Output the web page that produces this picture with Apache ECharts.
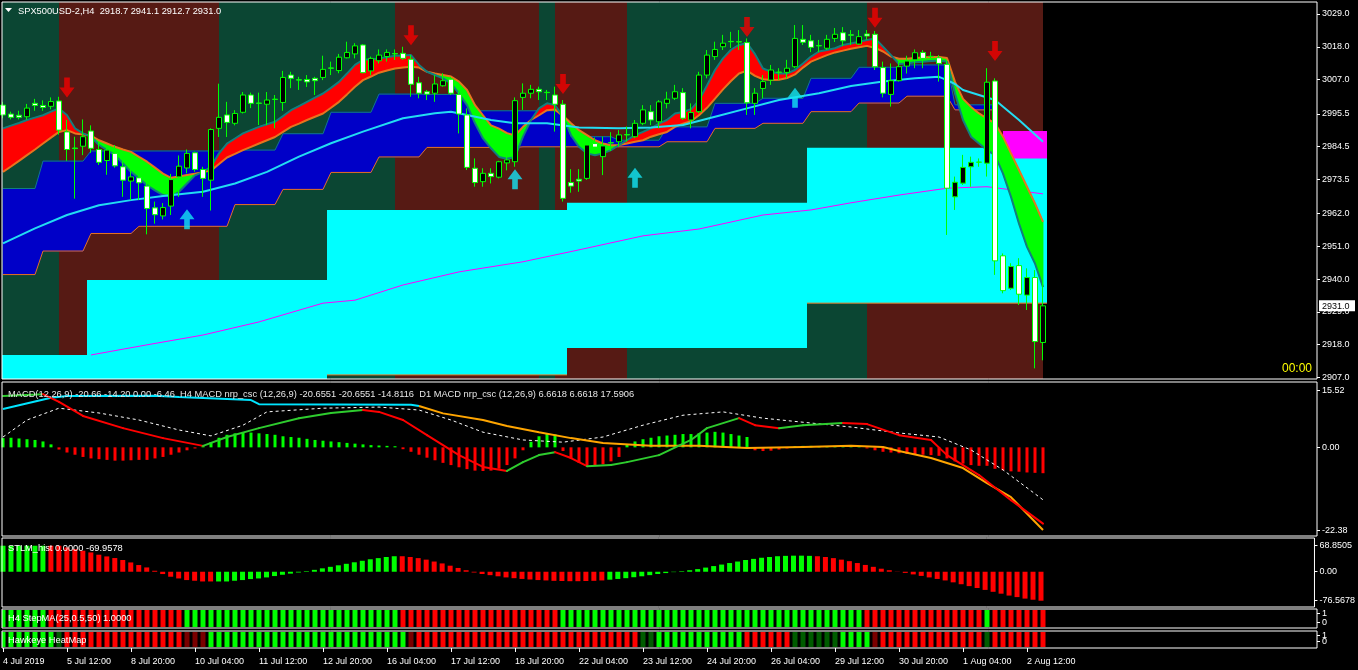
<!DOCTYPE html>
<html>
<head>
<meta charset="utf-8">
<title>SPX500USD-2,H4</title>
<script src="https://cdn.jsdelivr.net/npm/echarts@6/dist/echarts.min.js"></script>
<style>
html,body{margin:0;padding:0;background:#000;overflow:hidden;}
#chart{width:1358px;height:670px;}
</style>
</head>
<body>
<div id="chart"></div>
<script>
// ================= DATA =================
const symbolTitle = 'SPX500USD-2,H4  2918.7 2941.1 2912.7 2931.0';
const macdTitle = 'MACD(12,26,9) -20.66 -14.20 0.00 -6.46  H4 MACD nrp_csc (12,26,9) -20.6551 -20.6551 -14.8116  D1 MACD nrp_csc (12,26,9) 6.6618 6.6618 17.5906';
const stlmTitle = 'STLM_hist 0.0000 -69.9578';
const stepTitle = 'H4 StepMA(25,0.5,50) 1.0000';
const heatTitle = 'Hawkeye HeatMap';
const timerText = '00:00';
const lastPrice = 2931.0;

const timeTickBars = [0,8,16,24,32,40,48,56,64,72,80,88,96,104,112,120,128];
const timeTickLabels = ['4 Jul 2019','5 Jul 12:00','8 Jul 20:00','10 Jul 04:00','11 Jul 12:00','12 Jul 20:00','16 Jul 04:00','17 Jul 12:00','18 Jul 20:00','22 Jul 04:00','23 Jul 12:00','24 Jul 20:00','26 Jul 04:00','29 Jul 12:00','30 Jul 20:00','1 Aug 04:00','2 Aug 12:00'];
const priceTicks = [3029.0,3018.0,3007.0,2995.5,2984.5,2973.5,2962.0,2951.0,2940.0,2929.0,2918.0,2907.0];
const macdTicks = [15.52, 0, -22.38];
const macdTickLabels = ['15.52','0.00','-22.38'];
const stlmTicks = [68.8505, 0, -76.5678];
const stlmTickLabels = ['68.8505','0.00','-76.5678'];
const flagTicks = [1, 0];
const flagTickLabels = ['1', '0'];

// candles: [open, close, low, high], one per H4 bar
const candles = [
[2998.4,2995.1,2994.0,2999.5],[2995.4,2994.3,2993.6,2996.2],[2995.0,2994.3,2993.6,2996.5],[2994.5,2997.4,2993.5,2998.8],[2999.0,2998.3,2996.5,3000.5],
[2998.3,2997.6,2996.5,3000.0],[2998.0,2999.6,2997.0,3001.0],[2999.8,2990.0,2988.5,3001.2],[2989.4,2983.5,2979.7,2993.4],[2984.0,2983.8,2967.0,2987.8],
[2984.6,2987.8,2981.6,2993.6],[2989.7,2983.9,2982.3,2991.6],[2983.5,2979.2,2978.3,2985.8],[2979.8,2983.3,2975.0,2985.0],[2982.2,2978.0,2977.4,2985.0],
[2977.7,2973.2,2967.6,2980.5],[2972.9,2974.3,2966.5,2977.4],[2974.0,2972.3,2966.5,2975.3],[2971.2,2963.7,2955.0,2973.0],[2963.9,2961.6,2958.6,2966.0],
[2961.2,2964.0,2960.0,2965.5],[2964.5,2973.4,2961.5,2975.3],[2974.3,2977.9,2967.6,2981.5],[2977.3,2982.2,2975.5,2983.5],[2982.4,2976.8,2976.0,2982.8],
[2976.8,2973.8,2967.6,2977.7],[2973.2,2990.2,2963.0,2990.6],[2990.6,2994.3,2987.7,3005.6],[2995.1,2992.6,2987.7,2999.5],[2992.3,2995.6,2991.6,2996.7],
[2996.0,3001.8,2995.6,3002.8],[3001.8,2999.0,2997.4,3002.6],[2999.1,2999.0,2991.7,3002.6],[2998.7,3000.1,2991.7,3002.8],[3000.4,3000.3,2990.6,3001.8],
[2999.3,3007.7,2996.5,3009.9],[3008.5,3007.4,3004.1,3009.6],[3006.9,3006.8,3003.5,3007.9],[3007.0,3006.2,3004.5,3008.5],[3007.4,3006.6,3001.8,3007.9],
[3007.7,3010.4,3006.8,3015.0],[3010.9,3010.8,3008.5,3013.0],[3010.0,3014.5,3009.1,3015.6],[3014.3,3016.1,3014.1,3019.7],[3015.6,3018.3,3014.1,3019.2],
[3018.6,3009.3,3009.1,3018.9],[3009.9,3014.1,3008.5,3014.7],[3013.3,3015.2,3012.4,3017.1],[3014.7,3016.1,3013.0,3017.1],[3015.7,3015.6,3013.6,3017.1],
[3015.8,3014.1,3013.6,3018.0],[3013.8,3005.4,3001.2,3015.2],[3005.9,3002.4,3000.7,3007.9],[3002.9,3002.1,3000.1,3003.5],[3002.4,3005.5,2999.5,3008.5],
[3004.9,3006.6,3004.6,3009.1],[3007.1,3002.4,3001.8,3007.9],[3002.0,2995.4,2988.9,3002.9],[2995.1,2977.5,2976.6,2997.3],[2977.2,2972.4,2971.0,2980.5],
[2972.7,2975.5,2971.0,2977.2],[2975.5,2974.4,2972.1,2977.2],[2974.2,2979.4,2973.8,2979.7],[2979.0,2980.0,2976.5,2982.0],[2979.4,2999.9,2977.7,3001.0],
[3001.0,3002.4,2996.8,3005.7],[3002.4,3003.7,3000.7,3005.2],[3003.7,3002.9,3000.1,3004.6],[3002.7,3002.6,3000.1,3003.5],[3001.8,2998.7,2989.5,3004.6],
[2998.7,2967.1,2966.0,3000.1],[2972.4,2971.2,2969.0,2976.9],[2973.5,2972.9,2969.3,2976.9],[2973.8,2985.0,2973.3,2986.1],[2985.5,2984.3,2982.0,2987.5],
[2981.1,2984.7,2974.9,2987.8],[2985.8,2985.7,2983.0,2989.3],[2986.1,2988.4,2984.4,2990.0],[2988.5,2988.4,2986.1,2991.2],[2987.8,2992.3,2987.3,2993.4],
[2992.3,2996.8,2991.7,2998.4],[2996.2,2993.4,2991.7,2998.4],[2992.8,2999.5,2990.6,3000.1],[2999.0,3000.4,2997.3,3002.9],[3000.7,3002.9,3000.1,3005.2],
[3002.6,2994.0,2993.4,3004.1],[2993.4,2995.9,2990.6,2999.0],[2996.2,3008.5,2995.7,3009.6],[3008.5,3015.2,3007.4,3016.9],[3014.7,3017.1,3013.6,3019.7],
[3018.0,3019.2,3016.9,3022.0],[3019.8,3019.7,3017.6,3023.0],[3019.7,3019.6,3016.9,3023.6],[3019.4,2999.2,2995.1,3020.8],[2999.0,3002.4,2995.1,3004.1],
[3004.0,3006.3,3000.7,3008.5],[3006.8,3010.2,3005.2,3011.9],[3009.5,3009.4,3006.8,3010.8],[3009.4,3010.8,3007.4,3013.6],[3011.3,3020.8,3010.8,3025.3],
[3020.5,3019.5,3018.6,3025.3],[3020.0,3017.8,3016.2,3022.0],[3018.4,3018.3,3016.2,3020.3],[3017.5,3020.5,3016.9,3022.0],[3020.8,3022.2,3019.6,3024.3],
[3022.7,3020.0,3018.3,3024.6],[3022.0,3021.9,3018.6,3023.6],[3018.9,3021.4,3018.6,3023.6],[3022.3,3021.6,3020.3,3023.6],[3022.2,3011.3,3010.2,3023.3],
[3011.0,3002.4,3001.0,3013.0],[3002.0,3006.6,2997.9,3012.4],[3006.6,3011.3,3006.3,3013.0],[3011.5,3013.2,3009.0,3015.0],[3013.6,3016.0,3010.8,3017.1],
[3016.1,3014.1,3010.8,3016.9],[3014.8,3014.7,3013.6,3016.3],[3014.3,3012.4,3006.3,3015.2],[3012.1,2970.5,2954.8,3013.6],[2967.6,2972.5,2963.2,2974.4],
[2972.2,2977.5,2971.6,2981.7],[2977.7,2979.2,2971.0,2981.1],[2979.3,2979.2,2977.7,2980.5],[2978.9,3006.1,2974.4,3010.8],[3006.5,2946.1,2941.4,3007.4],
[2947.8,2936.1,2935.2,2948.6],[2936.9,2944.2,2936.3,2945.3],[2944.5,2934.9,2931.3,2947.0],[2934.6,2940.5,2929.6,2943.6],[2940.5,2919.0,2910.0,2943.0],
[2918.7,2931.0,2912.7,2941.1]
];

// ribbon: fast (teal) and slow (orange) moving averages
const ribbonFast = [
2990.6,2991.5,2992.4,2993.4,2994.2,2995.0,2996.2,2997.3,2995.0,2990.6,
2988.9,2987.8,2985.0,2983.3,2981.6,2978.8,2976.0,2973.8,2971.5,2969.8,
2968.2,2967.6,2969.3,2972.1,2974.8,2976.0,2977.7,2982.2,2985.5,2987.2,
2988.9,2990.0,2991.1,2992.0,2992.8,2994.7,2996.7,2998.1,2999.5,3000.9,
3002.3,3004.2,3006.2,3009.0,3011.9,3013.6,3013.8,3014.1,3014.5,3015.0,
3015.1,3015.2,3011.9,3009.6,3008.5,3007.4,3005.7,3002.3,2998.4,2992.3,
2987.2,2983.9,2981.0,2980.4,2981.0,2987.8,2993.4,2997.3,2999.0,2998.4,
2994.5,2988.3,2984.4,2982.2,2981.6,2982.2,2983.3,2985.0,2986.6,2988.3,
2989.4,2990.6,2992.2,2993.4,2995.6,2996.1,2997.0,3000.0,3005.0,3010.2,
3014.1,3017.0,3018.6,3019.2,3015.5,3010.7,3009.6,3009.0,3009.0,3010.2,
3012.4,3014.7,3016.4,3016.9,3017.5,3018.6,3019.1,3019.7,3020.3,3020.8,
3018.0,3015.2,3012.2,3012.4,3012.8,3013.0,3013.2,3013.4,3013.0,3002.3,
2993.4,2987.8,2985.5,2983.3,2981.6,2975.4,2967.6,2958.6,2950.8,2945.2,
2937.3];
const ribbonSlow = [
2976.0,2977.8,2979.7,2981.6,2983.5,2985.5,2987.5,2989.4,2990.0,2988.9,
2988.5,2988.2,2986.6,2985.5,2984.4,2983.5,2982.7,2981.0,2979.4,2977.4,
2975.4,2974.0,2974.4,2974.9,2975.4,2975.9,2976.4,2978.6,2980.8,2982.0,
2983.3,2984.4,2985.5,2986.6,2987.7,2989.4,2991.1,2992.2,2993.4,2994.5,
2995.6,2997.5,2999.5,3002.0,3004.6,3006.8,3008.0,3009.3,3010.0,3010.7,
3011.0,3011.3,3011.0,3009.6,3009.0,3008.5,3008.0,3006.3,3003.5,2998.4,
2995.0,2991.6,2990.5,2989.0,2988.2,2991.1,2993.4,2995.0,2996.7,2996.9,
2994.8,2992.3,2990.0,2988.3,2986.6,2985.5,2984.9,2985.0,2985.5,2986.1,
2986.6,2987.8,2988.6,2989.4,2991.1,2992.2,2993.0,2995.0,2997.5,3000.6,
3003.7,3006.5,3009.0,3010.0,3008.2,3007.1,3006.8,3006.9,3007.5,3008.7,
3011.0,3013.0,3014.1,3015.2,3016.1,3016.7,3017.3,3017.8,3018.3,3017.6,
3016.4,3014.7,3014.0,3014.0,3014.2,3014.4,3014.6,3014.6,3014.2,3006.2,
3000.5,2997.8,2995.6,2993.9,2992.3,2987.8,2982.2,2976.6,2971.0,2965.4,
2959.2];

// daily channel (blue): first bar, last bar, upper, lower
const chanFirstBar = [0,5,11,17,23,29,35,41,47,53,59,65,71,77,83,89,95,101,107,113,119];
const chanLastBar  = [4,10,16,22,28,34,40,46,52,58,64,70,76,82,88,94,100,106,112,118,124];
const chanUpperVal = [2970.4,2979.6,2983.0,2983.0,2983.0,2983.3,2988.8,2996.0,3002.1,3002.0,2996.5,2996.5,2987.8,2986.6,2991.1,2999.0,3000.7,3007.4,3011.1,3011.9,2998.5];
const chanLowerVal = [2941.5,2949.4,2955.3,2957.7,2957.7,2965.0,2970.1,2975.8,2981.0,2984.2,2984.2,2984.4,2984.4,2984.4,2986.1,2990.6,2992.3,2996.2,2999.1,3001.4,2996.8];

// weekly cyan boxes: start bar, end bar, top, bottom, bottom-edge line flag
const boxStart  = [-1, 10.5, 40.5, 70.5, 100.5];
const boxEnd    = [10.5, 40.5, 70.5, 100.5, 130.5];
const boxTop    = [2914.5, 2939.7, 2963.2, 2965.6, 2984.1];
const boxBottom = [2900.0, 2900.0, 2907.8, 2916.8, 2931.9];
const boxEdge   = [0, 0, 1, 0, 1];
const magentaBox = [125, 130.5, 2989.7, 2980.5];

// slow magenta MA, sampled [bar, price]
const magentaMA = [[11,2914.5],[18,2917.9],[25,2921.2],[32,2925.6],[40,2931.9],[44,2932.9],[50,2938.0],[57,2942.4],[65,2945.8],[72,2949.8],[80,2954.5],[87,2956.8],[95,2961.5],[101,2963.2],[106,2965.6],[112,2968.2],[118,2970.5],[123,2971.0],[130,2968.6]];
// cyan MA, sampled [bar, price]
const cyanMA = [[0,2952.0],[4,2957.0],[8,2961.5],[12,2964.8],[16,2966.5],[20,2967.9],[25,2969.3],[29,2972.1],[33,2976.0],[37,2981.1],[41,2985.6],[45,2989.5],[50,2994.0],[54,2995.7],[56,2996.2],[58,2995.1],[61,2993.4],[64,2992.3],[68,2992.3],[72,2990.9],[77,2990.6],[81,2990.9],[85,2991.7],[89,2994.5],[93,2997.3],[97,3000.1],[102,3002.4],[106,3004.8],[110,3006.3],[114,3007.4],[117,3007.9],[118,3006.8],[119,3005.5],[120,3003.5],[122,3001.8],[124,3000.1],[127,2993.4],[130,2986.1]];

// background regime bands: start bar, end bar, 1 = bearish (red), 0 = bullish (green)
const bandStart = [-2, 7, 27, 49, 67, 69, 78, 108];
const bandEnd   = [7, 27, 49, 67, 69, 78, 108, 130];
const bandBear  = [0, 1, 0, 1, 0, 1, 0, 1];

// arrows
const downArrowBar = [8, 51, 70, 93, 109, 124];
const downArrowPrice = [3004.3, 3021.9, 3005.5, 3024.6, 3027.7, 3016.6];
const upArrowBar = [23, 64, 79, 99];
const upArrowPrice = [2960.1, 2973.5, 2974.0, 3000.9];

// MACD panel
const macdHist = [
2.5,2.6,2.4,2.2,2.0,1.6,0.8,-0.6,-1.4,-2.0,-2.6,-3.0,-3.2,-3.4,-3.6,-3.6,-3.5,-3.4,-3.4,-3.0,-2.6,-2.0,-1.4,-0.8,-0.3,
0.4,1.4,2.6,3.4,3.8,4.0,4.0,3.8,3.6,3.4,3.0,2.8,2.6,2.3,2.0,1.8,1.6,1.4,1.2,1.0,0.8,0.6,0.5,0.4,0.3,
-0.5,-1.2,-2.0,-2.8,-3.5,-4.2,-4.8,-5.4,-5.9,-6.3,-6.4,-6.3,-5.8,-4.8,-3.0,
-0.8,1.5,3.0,3.8,3.5,
-1.0,-3.0,-4.2,-4.8,-4.9,-4.6,-3.8,-2.6,
0.8,1.6,2.2,2.6,3.0,3.2,3.4,3.6,3.6,3.8,4.0,4.2,4.0,3.6,3.2,2.8,
-0.8,-1.0,-0.9,-0.6,-0.3,
0.3,0.4,0.4,0.3,0.3,0.2,0.2,0.1,0.1,
-0.3,-0.8,-1.2,-1.4,-1.6,-1.8,-1.9,-2.0,-2.1,-2.3,-3.0,-3.8,-4.4,-4.8,-5.0,-5.0,-5.8,-6.2,-6.5,-6.6,-6.8,-6.9,-7.0];
const macdMain = [[0,13.9],[5,14.4],[7,12.3],[10,8.5],[15,5.2],[20,2.5],[25,0.4],[28,2.8],[32,5.2],[37,7.9],[41,9.3],[45,10.1],[47,9.6],[50,7.4],[53,3.3],[57,-2.1],[60,-5.3],[63,-6.4],[65,-4.0],[67,-2.1],[69,-1.3],[71,-2.9],[73,-5.1],[76,-4.8],[78,-4.0],[82,-2.1],[86,2.0],[88,5.2],[92,7.9],[94,6.0],[97,5.2],[100,6.0],[105,6.6],[108,6.3],[112,3.3],[116,2.0],[118,-2.1],[122,-7.5],[126,-14.3],[130,-20.66]];
const macdSignal = [[0,2.8],[3,7.4],[7,10.6],[12,9.3],[17,7.4],[22,4.7],[26,3.1],[30,6.0],[33,9.6],[40,10.6],[47,10.9],[52,10.1],[56,7.4],[60,4.1],[65,2.0],[70,1.4],[75,2.8],[80,6.0],[85,8.7],[90,9.6],[95,7.9],[100,6.8],[106,5.5],[112,3.9],[117,2.8],[121,-0.7],[125,-6.1],[130,-14.2]];
const d1MacdRising = [[0,10.4],[6,13.4],[8,13.9],[19,14.0],[22,13.6],[31,12.8],[32,11.7],[51,11.5],[52,11.2]];
const d1MacdFalling = [[52,11.2],[55,9.2],[60,7.4],[63,5.8],[67,4.1],[71,2.5],[75,1.2],[81,0.4],[87,0.4],[93,-0.2],[100,0.1],[106,0.4],[110,0.1],[112,-1.0],[116,-2.9],[120,-5.6],[123,-9.7],[126,-13.5],[130,-22.38]];

// STLM histogram
const stlmHist = [
68.8,68.8,68.8,68.8,68.8,68.8,
68.8,68.8,64.3,60,55.6,51.1,45,40.5,36.2,31,24.6,17.7,11.4,2.6,-6.1,-13.2,-17.7,-22,-23.8,-25.7,-25.7,
-25.7,-25.7,-23.8,-22,-19.4,-17.7,-15,-11.4,-8,-5,
-2,1.5,5,9,13,17,21,25,29,33,36,39,41,
41,39,36,32,27,22,16,10,4,
-2,-6,-9,-12,-15,-17,-19,-20.5,-22,-23,-24,-24.5,-25,-25,-24.5,-24,-23,
-21,-19,-17,-14.5,-12,-9,-6,-3.5,-1,1.5,
4,7,11,15,19,23,27,31,34,37,39,41,42,42.5,42.5,42,
41,39,36,32,28,23,18,13,8,4,0.5,
-3,-7,-11,-15,-19,-23,-28,-33,-38,-43,-48,-53,-58,-63,-67,-71,-74,-76.57];
const stlmRunStart = [0, 6, 27, 50, 76, 102];
const stlmRunEnd   = [5, 26, 49, 75, 101, 130];
const stlmRunUp    = [1, 0, 1, 0, 1, 0];

// StepMA state runs (1 = up/green, 0 = down/red)
const stepRunStart = [0, 6, 23, 50, 70, 108, 123, 124];
const stepRunEnd   = [5, 22, 49, 69, 107, 122, 123, 130];
const stepRunUp    = [1, 0, 1, 0, 1, 0, 1, 0];

// HeatMap runs: 'G' green, 'g' dark green, 'R' red, 'r' dark red
const heatRunStart = [0, 7, 8, 23, 26, 51, 52, 80, 82, 93, 99, 105, 109, 110, 123, 124];
const heatRunEnd   = [6, 7, 22, 25, 50, 51, 79, 81, 92, 98, 104, 108, 109, 122, 123, 130];
const heatRunState = ['G','g','R','r','G','r','R','g','G','R','g','G','r','R','g','R'];

// ================= BUILD =================
const N = candles.length;
const XMIN = -0.125, XMAX = XMIN + 1315 / 8;
const FONT = 'Liberation Sans, Arial, sans-serif';
const TXT = '9.3px ' + FONT;
const C = {
  bgGreen: '#0b4633', bgRed: '#561a14', cyan: '#00ffff', magenta: '#ff00ff',
  blue: '#0000c8', teal: '#127e7e', orange: '#e8731e', lime: '#00ff00', red: '#ff0000',
  maCyan: '#22dcf2', upArrow: '#14e4f4'
};

function expandRuns(starts, ends, vals) {
  const out = new Array(N).fill(null);
  starts.forEach((s, k) => { for (let i = s; i <= ends[k]; i++) if (i >= 0 && i < N) out[i] = vals[k]; });
  return out;
}
const chanUpper = expandRuns(chanFirstBar, chanLastBar, chanUpperVal);
const chanLower = expandRuns(chanFirstBar, chanLastBar, chanLowerVal);
const stlmUp = expandRuns(stlmRunStart, stlmRunEnd, stlmRunUp);
const stepUp = expandRuns(stepRunStart, stepRunEnd, stepRunUp);
const heatState = expandRuns(heatRunStart, heatRunEnd, heatRunState);

const chanSegs = [];
for (let i = 0; i < N - 1; i++) if (chanUpper[i] != null && chanUpper[i + 1] != null)
  chanSegs.push([i, chanUpper[i], chanLower[i], chanUpper[i + 1], chanLower[i + 1]]);
const ribbonSegs = [];
for (let i = 0; i < N - 1; i++) ribbonSegs.push([i, ribbonFast[i], ribbonSlow[i], ribbonFast[i + 1], ribbonSlow[i + 1]]);
const macdSegs = [];
for (let k = 0; k < macdMain.length - 1; k++) macdSegs.push([macdMain[k][0], macdMain[k][1], macdMain[k + 1][0], macdMain[k + 1][1]]);

const grids = [
  { left: 2, top: 2, width: 1315, height: 377 },
  { left: 2, top: 382, width: 1315, height: 154 },
  { left: 2, top: 538, width: 1315, height: 69 },
  { left: 2, top: 609, width: 1315, height: 19 },
  { left: 2, top: 631, width: 1315, height: 17 }
].map(g => Object.assign(g, { show: true, z: 20, borderColor: '#ffffff', borderWidth: 1, backgroundColor: 'transparent', containLabel: false }));

function xAxis(gi, show) {
  return {
    type: 'value', gridIndex: gi, min: XMIN, max: XMAX, show: true, position: 'bottom',
    axisLine: { show: false, onZero: false }, splitLine: { show: false },
    axisTick: show ? { show: true, customValues: timeTickBars, length: 4, lineStyle: { color: '#ffffff' } } : { show: false },
    axisLabel: show ? {
      show: true, customValues: timeTickBars, align: 'left', margin: 9, hideOverlap: false,
      color: '#ffffff', fontSize: 9, fontFamily: FONT,
      formatter: v => { const k = timeTickBars.indexOf(Math.round(v)); return k >= 0 ? timeTickLabels[k] : ''; }
    } : { show: false }
  };
}
function yAxis(gi, min, max, ticks, labels, stacked) {
  // stacked: the two labels sit so close that the terminal prints them on top of each other
  const labelValues = stacked ? [(ticks[0] + ticks[1]) / 2] : ticks;
  return {
    type: 'value', gridIndex: gi, position: 'right', min: min, max: max,
    axisLine: { show: false, onZero: false }, splitLine: { show: false },
    axisTick: { show: true, customValues: ticks, length: 3, lineStyle: { color: '#ffffff' } },
    axisLabel: {
      show: true, customValues: labelValues, margin: 5, hideOverlap: false, color: '#ffffff', fontSize: 9, fontFamily: FONT,
      lineHeight: stacked ? 6.5 : undefined,
      formatter: v => {
        if (stacked) return labels.join('\n');
        for (let k = 0; k < ticks.length; k++) if (Math.abs(ticks[k] - v) < 1e-6) return labels[k];
        return '';
      }
    }
  };
}

function segPolygon(api, a, b, c, d, fill) {
  return { type: 'polygon', shape: { points: [api.coord(a), api.coord(b), api.coord(c), api.coord(d)] },
           style: { fill: fill, stroke: fill, lineWidth: 0.8 } };
}

const series = [];
// background regimes
series.push({
  type: 'custom', xAxisIndex: 0, yAxisIndex: 0, z: 1, clip: true, silent: true,
  encode: { x: [0, 1], y: 2 },
  data: bandStart.map((s, k) => [s, bandEnd[k], bandBear[k]]),
  renderItem(params, api) {
    const cs = params.coordSys;
    const x0 = api.coord([api.value(0), 2950])[0], x1 = api.coord([api.value(1), 2950])[0];
    return { type: 'rect', shape: { x: x0, y: cs.y, width: x1 - x0, height: cs.height },
             style: { fill: api.value(2) ? C.bgRed : C.bgGreen } };
  }
});
// cyan weekly boxes
series.push({
  type: 'custom', xAxisIndex: 0, yAxisIndex: 0, z: 2, clip: true, silent: true,
  encode: { x: [0, 1], y: [2, 3] },
  data: boxStart.map((s, k) => [s, boxEnd[k], boxTop[k], boxBottom[k], boxEdge[k]]),
  renderItem(params, api) {
    const p0 = api.coord([api.value(0), api.value(2)]);
    const p1 = api.coord([api.value(1), api.value(3)]);
    const children = [{ type: 'rect', shape: { x: p0[0], y: p0[1], width: p1[0] - p0[0], height: p1[1] - p0[1] }, style: { fill: C.cyan } }];
    if (api.value(4)) children.push({ type: 'line', shape: { x1: p0[0], y1: p1[1], x2: p1[0], y2: p1[1] }, style: { stroke: C.orange, lineWidth: 1 } });
    return { type: 'group', children };
  }
});
// magenta box
series.push({
  type: 'custom', xAxisIndex: 0, yAxisIndex: 0, z: 3, clip: true, silent: true,
  encode: { x: [0, 1], y: [2, 3] },
  data: [magentaBox],
  renderItem(params, api) {
    const p0 = api.coord([api.value(0), api.value(2)]);
    const p1 = api.coord([api.value(1), api.value(3)]);
    return { type: 'rect', shape: { x: p0[0], y: p0[1], width: p1[0] - p0[0], height: p1[1] - p0[1] }, style: { fill: C.magenta } };
  }
});
// magenta MA
series.push({ type: 'line', xAxisIndex: 0, yAxisIndex: 0, z: 3, silent: true, symbol: 'none',
  data: magentaMA, lineStyle: { color: C.magenta, width: 1 } });
// blue channel fill
series.push({
  type: 'custom', xAxisIndex: 0, yAxisIndex: 0, z: 4, clip: true, silent: true,
  encode: { x: 0, y: [1, 2] }, data: chanSegs,
  renderItem(params, api) {
    const i = api.value(0);
    return segPolygon(api, [i, api.value(1)], [i + 1, api.value(3)], [i + 1, api.value(4)], [i, api.value(2)], C.blue);
  }
});
series.push({ type: 'line', xAxisIndex: 0, yAxisIndex: 0, z: 5, silent: true, symbol: 'none',
  data: chanUpper.map((v, i) => [i, v]).filter(p => p[1] != null), lineStyle: { color: C.teal, width: 1 } });
series.push({ type: 'line', xAxisIndex: 0, yAxisIndex: 0, z: 5, silent: true, symbol: 'none',
  data: chanLower.map((v, i) => [i, v]).filter(p => p[1] != null), lineStyle: { color: C.orange, width: 1 } });
// ribbon fill
series.push({
  type: 'custom', xAxisIndex: 0, yAxisIndex: 0, z: 6, clip: true, silent: true,
  encode: { x: 0, y: [1, 2] }, data: ribbonSegs,
  renderItem(params, api) {
    const i = api.value(0), f0 = api.value(1), s0 = api.value(2), f1 = api.value(3), s1 = api.value(4);
    const d0 = f0 - s0, d1 = f1 - s1;
    const col = d => d >= 0 ? C.red : C.lime;
    if (d0 * d1 < 0) {
      const t = d0 / (d0 - d1);
      const xc = i + t, yc = f0 + t * (f1 - f0);
      return { type: 'group', children: [
        { type: 'polygon', shape: { points: [api.coord([i, f0]), api.coord([xc, yc]), api.coord([i, s0])] }, style: { fill: col(d0), stroke: col(d0), lineWidth: 0.6 } },
        { type: 'polygon', shape: { points: [api.coord([xc, yc]), api.coord([i + 1, f1]), api.coord([i + 1, s1])] }, style: { fill: col(d1), stroke: col(d1), lineWidth: 0.6 } }
      ] };
    }
    return segPolygon(api, [i, f0], [i + 1, f1], [i + 1, s1], [i, s0], col(d0 + d1));
  }
});
series.push({ type: 'line', xAxisIndex: 0, yAxisIndex: 0, z: 7, silent: true, symbol: 'none',
  data: ribbonSlow.map((v, i) => [i, v]), lineStyle: { color: C.orange, width: 2 } });
series.push({ type: 'line', xAxisIndex: 0, yAxisIndex: 0, z: 7, silent: true, symbol: 'none',
  data: ribbonFast.map((v, i) => [i, v]), lineStyle: { color: C.teal, width: 2 } });
// cyan MA
series.push({ type: 'line', xAxisIndex: 0, yAxisIndex: 0, z: 8, silent: true, symbol: 'none',
  data: cyanMA, lineStyle: { color: C.maCyan, width: 2 } });
// candles
series.push({
  type: 'candlestick', xAxisIndex: 0, yAxisIndex: 0, z: 9, silent: true, barWidth: 5,
  encode: { x: 0, y: [1, 2, 3, 4] },
  data: candles.map((c, i) => [i, c[0], c[1], c[2], c[3]]),
  itemStyle: { color: '#000000', color0: '#ffffff', borderColor: C.lime, borderColor0: C.lime, borderColorDoji: C.lime, borderWidth: 1 }
});
// arrows
series.push({ type: 'scatter', xAxisIndex: 0, yAxisIndex: 0, z: 10, silent: true,
  symbol: 'path://M5,0L11,0L11,10L16,10L8,20L0,10L5,10Z', symbolSize: [15, 20],
  data: downArrowBar.map((b, k) => [b, downArrowPrice[k]]), itemStyle: { color: '#f20000' } });
series.push({ type: 'scatter', xAxisIndex: 0, yAxisIndex: 0, z: 10, silent: true,
  symbol: 'path://M8,0L16,10L11,10L11,20L5,20L5,10L0,10Z', symbolSize: [15, 20],
  data: upArrowBar.map((b, k) => [b, upArrowPrice[k]]), itemStyle: { color: C.upArrow } });
// last price tag on the price scale
series.push({
  type: 'custom', xAxisIndex: 0, yAxisIndex: 0, z: 40, silent: true, clip: false,
  encode: { x: 0, y: 1 },
  data: [[N - 1, lastPrice]],
  renderItem(params, api) {
    const cs = params.coordSys;
    const y = api.coord([api.value(0), api.value(1)])[1];
    const x = cs.x + cs.width + 2;
    return { type: 'group', children: [
      { type: 'rect', shape: { x: x, y: y - 5.5, width: 36, height: 11 }, style: { fill: '#ffffff' } },
      { type: 'text', style: { text: api.value(1).toFixed(1), x: x + 3, y: y + 0.5, fill: '#000000', font: '9px ' + FONT, verticalAlign: 'middle' } }
    ] };
  }
});

// MACD panel
series.push({ type: 'bar', xAxisIndex: 1, yAxisIndex: 1, z: 3, silent: true, barWidth: 3,
  data: macdHist.map((v, i) => ({ value: [i, v], itemStyle: { color: v >= 0 ? C.lime : C.red } })) });
series.push({ type: 'line', xAxisIndex: 1, yAxisIndex: 1, z: 4, silent: true, symbol: 'none',
  data: macdSignal, lineStyle: { color: '#ffffff', width: 1, type: [3, 3] } });
series.push({ type: 'line', xAxisIndex: 1, yAxisIndex: 1, z: 5, silent: true, symbol: 'none',
  data: d1MacdRising, lineStyle: { color: '#00e5ff', width: 2 } });
series.push({ type: 'line', xAxisIndex: 1, yAxisIndex: 1, z: 5, silent: true, symbol: 'none',
  data: d1MacdFalling, lineStyle: { color: '#ffa500', width: 2 } });
series.push({
  type: 'custom', xAxisIndex: 1, yAxisIndex: 1, z: 6, silent: true, clip: true,
  encode: { x: [0, 2], y: [1, 3] }, data: macdSegs,
  renderItem(params, api) {
    const a = api.coord([api.value(0), api.value(1)]), b = api.coord([api.value(2), api.value(3)]);
    return { type: 'line', shape: { x1: a[0], y1: a[1], x2: b[0], y2: b[1] },
             style: { stroke: api.value(3) > api.value(1) ? '#2ecc2e' : C.red, lineWidth: 2, lineCap: 'round' } };
  }
});
// STLM panel
series.push({ type: 'bar', xAxisIndex: 2, yAxisIndex: 2, z: 3, silent: true, barWidth: 5,
  data: stlmHist.map((v, i) => ({ value: [i, v], itemStyle: { color: stlmUp[i] ? C.lime : C.red } })) });
// StepMA + HeatMap panels
function stateBars(gi, states, colorOf) {
  return {
    type: 'custom', xAxisIndex: gi, yAxisIndex: gi, z: 3, silent: true, clip: true,
    encode: { x: 0, y: 1 },
    data: states.map((s, i) => [i, 1]),
    renderItem(params, api) {
      const cs = params.coordSys;
      const x = api.coord([api.value(0), 0])[0];
      return { type: 'rect', shape: { x: x - 2.5, y: cs.y + 1, width: 5, height: cs.height - 2 },
               style: { fill: colorOf(states[params.dataIndex]) } };
    }
  };
}
series.push(stateBars(3, stepUp, s => s ? C.lime : C.red));
const heatColors = { G: '#00ff00', g: '#005c00', R: '#ff0000', r: '#7a0000' };
series.push(stateBars(4, heatState, s => heatColors[s]));

const option = {
  animation: false,
  backgroundColor: '#000000',
  textStyle: { fontFamily: FONT },
  grid: grids,
  xAxis: [xAxis(0, false), xAxis(1, false), xAxis(2, false), xAxis(3, false), xAxis(4, true)],
  yAxis: [
    yAxis(0, 2906.43, 3033.03, priceTicks, priceTicks.map(v => v.toFixed(1))),
    yAxis(1, -24.0, 17.69, macdTicks, macdTickLabels),
    yAxis(2, -93.2, 89.2, stlmTicks, stlmTickLabels),
    yAxis(3, -0.63, 1.48, flagTicks, flagTickLabels),
    yAxis(4, -0.94, 1.6, flagTicks, flagTickLabels, true)
  ],
  series: series,
  graphic: [
    { type: 'polygon', z: 200, shape: { points: [[5, 8], [12, 8], [8.5, 12]] }, style: { fill: '#ffffff' } },
    { type: 'text', z: 200, x: 18, y: 11, style: { text: symbolTitle, fill: '#ffffff', font: TXT, verticalAlign: 'middle' } },
    { type: 'text', z: 200, x: 8, y: 394, style: { text: macdTitle, fill: '#e6e6e6', font: TXT, verticalAlign: 'middle' } },
    { type: 'text', z: 200, x: 8, y: 548, style: { text: stlmTitle, fill: '#ffffff', font: TXT, verticalAlign: 'middle' } },
    { type: 'text', z: 200, x: 8, y: 618, style: { text: stepTitle, fill: '#ffffff', font: TXT, verticalAlign: 'middle' } },
    { type: 'text', z: 200, x: 8, y: 640, style: { text: heatTitle, fill: '#ffffff', font: TXT, verticalAlign: 'middle' } },
    { type: 'text', z: 200, x: 1282, y: 369, style: { text: timerText, fill: '#ffff00', font: '12px ' + FONT, verticalAlign: 'middle' } }
  ]
};

const chart = echarts.init(document.getElementById('chart'), null, { renderer: 'canvas', width: 1358, height: 670 });
chart.setOption(option);
</script>
</body>
</html>
